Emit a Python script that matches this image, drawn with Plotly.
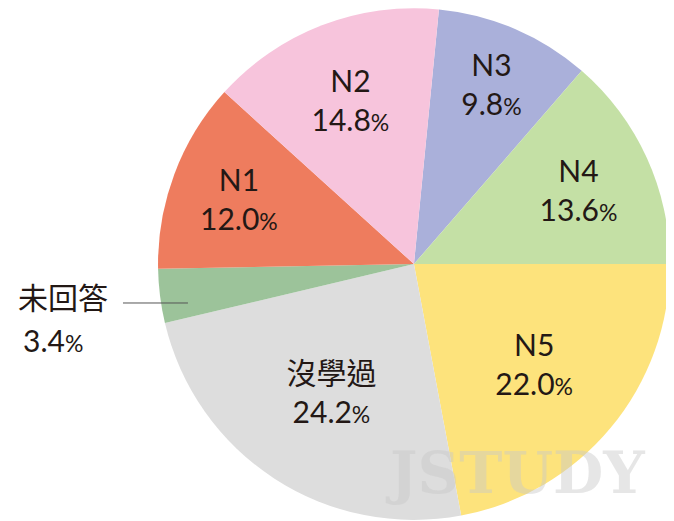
import plotly.graph_objects as go

labels = ["N3", "N4", "N5", "沒學過", "未回答", "N1", "N2"]
values = [9.8, 13.6, 22.0, 24.2, 3.4, 12.0, 14.8]
colors = ["#aab0da", "#c4e0a5", "#fde37c", "#dddddd", "#9cc39a", "#ee7c5e", "#f7c4dc"]

FONT = "Lato, Noto Sans CJK TC, sans-serif"

texts = []
for lab, v in zip(labels, values):
    if lab == "未回答":
        texts.append("")
    else:
        texts.append(f"{lab}<br>{v:.1f}<span style='font-size:23px'>%</span>")

fig = go.Figure()
fig.add_trace(go.Pie(
    labels=labels,
    values=values,
    text=texts,
    textinfo="text",
    textposition="inside",
    insidetextorientation="horizontal",
    sort=False,
    direction="clockwise",
    rotation=5.6,
    marker=dict(colors=colors, line=dict(width=0)),
    textfont=dict(family=FONT, size=30, color="#231815"),
    showlegend=False,
    hoverinfo="label+value",
    domain=dict(x=[0.2226, 0.982], y=[0.017, 1.0]),
))

# leader line for the small slice
fig.add_shape(
    type="line", xref="paper", yref="paper", layer="above",
    x0=0.1706, x1=0.267, y0=0.4338, y1=0.4338,
    line=dict(color="#555555", width=1),
)
idx = labels.index("未回答")
fig.add_annotation(
    x=0.082, y=0.447, xref="paper", yref="paper", showarrow=False,
    xanchor="center", yanchor="middle",
    text=labels[idx],
    font=dict(family="Noto Sans CJK TC", size=30, color="#231815"),
)
fig.add_annotation(
    x=0.067, y=0.362, xref="paper", yref="paper", showarrow=False,
    xanchor="center", yanchor="middle",
    text=f"{values[idx]:.1f}<span style='font-size:23px'>%</span>",
    font=dict(family=FONT, size=30, color="#231815"),
)

# watermark
fig.add_annotation(
    x=0.752, y=0.107, xref="paper", yref="paper", showarrow=False,
    xanchor="center", yanchor="middle",
    text="<b>JSTUDY</b>",
    font=dict(family="DejaVu Serif", size=58, color="rgba(200,200,200,0.45)"),
)

fig.update_layout(
    width=674, height=521,
    margin=dict(l=0, r=0, t=0, b=0),
    paper_bgcolor="white",
    plot_bgcolor="white",
)

fig.write_html("out.html")
